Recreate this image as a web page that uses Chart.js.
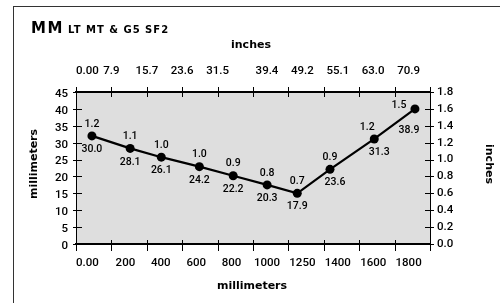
<!DOCTYPE html>
<html>
<head>
<meta charset="utf-8">
<script src="https://cdn.jsdelivr.net/npm/chart.js@4.4.1/dist/chart.umd.min.js"></script>
<style>
  html, body { margin: 0; padding: 0; background: #fff; }
  #wrap { position: relative; width: 500px; height: 303px; overflow: hidden; }
  #frame { position: absolute; left: 13px; top: 6px; width: 700px; height: 500px;
           border-top: 1.5px solid #333; border-left: 1.5px solid #333; }
  canvas { position: absolute; left: 0; top: 0; }
</style>
</head>
<body>
<div id="wrap">
  <div id="frame"></div>
  <canvas id="chart" width="500" height="303"></canvas>
</div>
<script>
// Chart data
const titleMain = 'MM';
const titleSub = 'LT MT & G5 SF2';
const mmTickLabels = ['0.00', '200', '400', '600', '800', '1000', '1250', '1400', '1600', '1800'];
const inchTickLabels = ['0.00', '7.9', '15.7', '23.6', '31.5', '39.4', '49.2', '55.1', '63.0', '70.9'];
// where each point sits on the bottom (mm) axis and left (mm) axis
const pointX = [90, 306, 482, 697, 888, 1080, 1250, 1435, 1685, 1915];
const pointY = [32.0, 28.3, 25.7, 22.9, 20.2, 17.5, 15.0, 22.1, 31.1, 40.0];
// printed values
const mmLabels = ['30.0', '28.1', '26.1', '24.2', '22.2', '20.3', '17.9', '23.6', '31.3', '38.9'];
const inchLabels = ['1.2', '1.1', '1.0', '1.0', '0.9', '0.8', '0.7', '0.9', '1.2', '1.5'];

const numFamily = 'Roboto, "Liberation Sans", Arial, sans-serif';
const tickFont = '500 11.5px ' + numFamily;
const labelFont = '500 10.5px ' + numFamily;
const titleFont = 'bold 11px "DejaVu Sans", sans-serif';

// Label placement tweaks (dx, dy) relative to the point
function inchOffset(i, n) {
  if (i === n - 1) return [-16, -4];
  if (i === n - 2) return [-7, -12];
  return [0, -12];
}
function mmOffset(i, n) {
  if (i === n - 1) return [-6, 21];
  if (i >= n - 3) return [5, 13];
  return [0, 13.5];
}

const decor = {
  id: 'decor',
  beforeDraw(chart) {
    const { ctx, chartArea: a } = chart;
    ctx.save();
    ctx.fillStyle = '#dedede';
    ctx.fillRect(a.left, a.top, a.right - a.left, a.bottom - a.top);
    ctx.restore();
  },
  afterDraw(chart) {
    const { ctx, chartArea: a, scales } = chart;
    ctx.save();
    ctx.strokeStyle = '#000';
    ctx.lineWidth = 1;

    // crossing tick marks on the x axes
    scales.x.ticks.forEach(t => {
      const px = Math.round(scales.x.getPixelForValue(t.value)) + 0.5;
      ctx.beginPath();
      ctx.moveTo(px, a.bottom - 4); ctx.lineTo(px, a.bottom + 7);
      ctx.moveTo(px, a.top - 5); ctx.lineTo(px, a.top + 5);
      ctx.stroke();
    });
    // crossing tick marks on the y axes
    scales.y.ticks.forEach(t => {
      const py = Math.round(scales.y.getPixelForValue(t.value)) + 0.5;
      ctx.beginPath();
      ctx.moveTo(a.left - 3, py); ctx.lineTo(a.left + 6, py);
      ctx.stroke();
    });
    scales.y1.ticks.forEach(t => {
      const py = Math.round(scales.y1.getPixelForValue(t.value)) + 0.5;
      ctx.beginPath();
      ctx.moveTo(a.right - 5, py); ctx.lineTo(a.right + 4, py);
      ctx.stroke();
    });

    // x tick labels (top: inches, bottom: millimeters)
    ctx.fillStyle = '#000';
    ctx.font = tickFont;
    ctx.textBaseline = 'middle';
    mmTickLabels.forEach((lab, i) => {
      const px = scales.x.getPixelForValue(i * 200);
      if (i === 0) { ctx.textAlign = 'left'; ctx.fillText(lab, px, 263); }
      else { ctx.textAlign = 'center'; ctx.fillText(lab, px + 14, 263); }
    });
    inchTickLabels.forEach((lab, i) => {
      const px = scales.x2.getPixelForValue(i * 200);
      if (i === 0) { ctx.textAlign = 'left'; ctx.fillText(lab, px, 71); }
      else { ctx.textAlign = 'center'; ctx.fillText(lab, px + (i < 5 ? 0 : 14), 71); }
    });

    // axis titles
    ctx.font = titleFont;
    ctx.textAlign = 'center';
    ctx.fillText('inches', 251, 45);
    ctx.fillText('millimeters', 252, 286);
    ctx.save();
    ctx.translate(34, 164);
    ctx.rotate(-Math.PI / 2);
    ctx.fillText('millimeters', 0, 0);
    ctx.restore();
    ctx.save();
    ctx.translate(489, 164);
    ctx.rotate(Math.PI / 2);
    ctx.fillText('inches', 0, 0);
    ctx.restore();

    // chart title
    ctx.textAlign = 'left';
    ctx.textBaseline = 'alphabetic';
    ctx.font = 'bold 15px "DejaVu Sans", sans-serif';
    ctx.letterSpacing = '1.5px';
    ctx.fillText(titleMain, 31, 33);
    ctx.font = 'bold 10px "DejaVu Sans", sans-serif';
    ctx.letterSpacing = '1px';
    ctx.fillText(titleSub, 68, 33);
    ctx.restore();
  },
  afterDatasetsDraw(chart) {
    const { ctx } = chart;
    const pts = chart.getDatasetMeta(0).data;
    const n = pts.length;
    ctx.save();
    ctx.fillStyle = '#000';
    ctx.font = labelFont;
    ctx.textAlign = 'center';
    ctx.textBaseline = 'middle';
    pts.forEach((p, i) => {
      const [ix, iy] = inchOffset(i, n);
      const [mx, my] = mmOffset(i, n);
      ctx.fillText(inchLabels[i], p.x + ix, p.y + iy);
      ctx.fillText(mmLabels[i], p.x + mx, p.y + my);
    });
    ctx.restore();
  }
};

document.addEventListener('DOMContentLoaded', () => {
  const ctx = document.getElementById('chart').getContext('2d');
  new Chart(ctx, {
    type: 'line',
    data: {
      datasets: [{
        data: pointX.map((x, i) => ({ x, y: pointY[i] })),
        xAxisID: 'x',
        yAxisID: 'y',
        borderColor: '#000',
        borderWidth: 2.2,
        pointRadius: 4.5,
        pointBackgroundColor: '#000',
        pointBorderWidth: 0,
        fill: false,
        tension: 0
      }]
    },
    options: {
      responsive: false,
      animation: false,
      devicePixelRatio: 1,
      layout: { padding: 0, autoPadding: false },
      events: [],
      plugins: { legend: { display: false }, tooltip: { enabled: false } },
      scales: {
        x: {
          type: 'linear', position: 'bottom', min: 0, max: 2000,
          ticks: { display: false, stepSize: 200 },
          grid: { display: false, drawTicks: false },
          border: { display: true, color: '#000', width: 2 },
          afterFit: s => { s.height = 59; }
        },
        x2: {
          type: 'linear', position: 'top', min: 0, max: 2000,
          ticks: { display: false, stepSize: 200 },
          grid: { display: false, drawTicks: false },
          border: { display: true, color: '#000', width: 2 },
          afterFit: s => { s.height = 92; }
        },
        y: {
          type: 'linear', position: 'left', min: 0, max: 45,
          ticks: { stepSize: 5, padding: 8, color: '#000', font: { family: numFamily, size: 11.5, weight: '500' }, labelOffset: 2 },
          grid: { display: false, drawTicks: false },
          border: { display: true, color: '#000', width: 1 },
          afterFit: s => { s.width = 76; }
        },
        y1: {
          type: 'linear', position: 'right', min: 0, max: 1.8,
          ticks: { stepSize: 0.2, padding: 7, color: '#000', font: { family: numFamily, size: 11.5, weight: '500' },
                   callback: v => Number(v).toFixed(1) },
          grid: { display: false, drawTicks: false },
          border: { display: true, color: '#000', width: 1 },
          afterFit: s => { s.width = 70; }
        }
      }
    },
    plugins: [decor]
  });
});
</script>
</body>
</html>
